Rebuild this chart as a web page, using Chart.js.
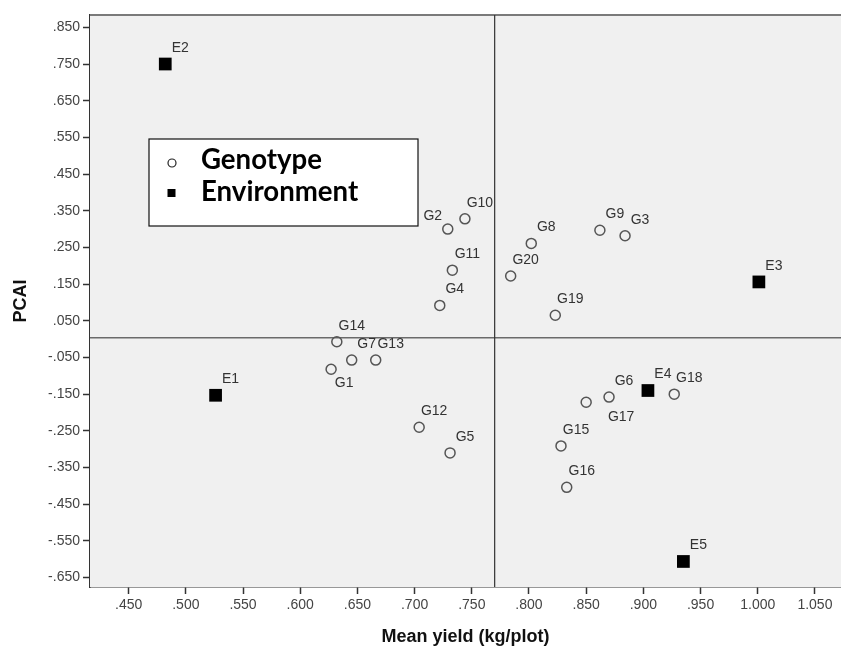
<!DOCTYPE html>
<html>
<head>
<meta charset="utf-8">
<script src="https://cdn.jsdelivr.net/npm/chart.js@4.4.1/dist/chart.umd.min.js"></script>
<style>
  html, body { margin: 0; padding: 0; background: #fff; overflow: hidden; }
  #wrap { width: 841px; height: 648px; overflow: hidden; }
</style>
</head>
<body>
<!-- canvas is a bit wider than the window: the plot frame runs off the right edge like the original -->
<div id="wrap"><canvas id="chart" width="850" height="648"></canvas></div>
<script>
// genotypes
const genoNames = ["G1", "G2", "G3", "G4", "G5", "G6", "G7", "G8", "G9", "G10",
  "G11", "G12", "G13", "G14", "G15", "G16", "G17", "G18", "G19", "G20"];
const genoYield = [0.627, 0.729, 0.884, 0.722, 0.731, 0.870, 0.645, 0.802, 0.862, 0.744,
  0.733, 0.704, 0.666, 0.632, 0.828, 0.833, 0.850, 0.927, 0.823, 0.784];
const genoPca = [-0.082, 0.300, 0.282, 0.092, -0.310, -0.158, -0.057, 0.261, 0.297, 0.328,
  0.188, -0.240, -0.057, -0.007, -0.291, -0.404, -0.172, -0.150, 0.065, 0.172];

// environments
const envNames = ["E1", "E2", "E3", "E4", "E5"];
const envYield = [0.526, 0.482, 1.001, 0.904, 0.935];
const envPca = [-0.153, 0.750, 0.156, -0.140, -0.606];

// reference lines (grand mean / zero)
const meanYield = 0.770;
const meanPca = 0.004;

// axis ticks
const xTicks = [0.45, 0.5, 0.55, 0.6, 0.65, 0.7, 0.75, 0.8, 0.85, 0.9, 0.95, 1.0, 1.05];
const yTicks = [0.85, 0.75, 0.65, 0.55, 0.45, 0.35, 0.25, 0.15, 0.05, -0.05, -0.15,
  -0.25, -0.35, -0.45, -0.55, -0.65];

// where a label sits next to its point (px), default up-right
const labelShift = { G2: [-15, -13], G1: [13, 14], G17: [35, 15] };

function fmt(v) {
  return v.toFixed(3).replace(/^(-?)0\./, "$1.");
}

const genoPoints = genoYield.map((x, i) => ({ x, y: genoPca[i], name: genoNames[i] }));
const envPoints = envYield.map((x, i) => ({ x, y: envPca[i], name: envNames[i] }));

const plotDecor = {
  id: "plotDecor",
  beforeDatasetsDraw(chart) {
    const { ctx, chartArea: a, scales } = chart;
    ctx.save();
    ctx.fillStyle = "#f0f0f0";
    ctx.fillRect(a.left, a.top, a.right - a.left, a.bottom - a.top);
    // top border
    ctx.strokeStyle = "#7a7a7a";
    ctx.lineWidth = 2;
    ctx.beginPath();
    ctx.moveTo(a.left, a.top);
    ctx.lineTo(a.right, a.top);
    ctx.stroke();
    // reference lines
    const xm = scales.x.getPixelForValue(meanYield);
    const ym = scales.y.getPixelForValue(meanPca);
    ctx.strokeStyle = "#6a6a6a";
    ctx.lineWidth = 1.5;
    ctx.beginPath();
    ctx.moveTo(a.left, ym);
    ctx.lineTo(a.right, ym);
    ctx.stroke();
    ctx.strokeStyle = "#333";
    ctx.lineWidth = 1.2;
    ctx.beginPath();
    ctx.moveTo(xm, a.top);
    ctx.lineTo(xm, a.bottom);
    ctx.stroke();
    ctx.restore();
  },
  afterDatasetsDraw(chart) {
    const { ctx, scales } = chart;
    ctx.save();
    ctx.font = "14px 'Liberation Sans', Arial, sans-serif";
    ctx.fillStyle = "#333";
    ctx.textAlign = "center";
    ctx.textBaseline = "middle";
    [genoPoints, envPoints].forEach(pts => {
      pts.forEach(p => {
        const s = labelShift[p.name] || [15, -16];
        const px = scales.x.getPixelForValue(p.x);
        const py = scales.y.getPixelForValue(p.y);
        ctx.fillText(p.name, px + s[0], py + s[1]);
      });
    });

    // legend box
    ctx.fillStyle = "#fff";
    ctx.fillRect(149, 139, 269, 87);
    ctx.strokeStyle = "#111";
    ctx.lineWidth = 1.2;
    ctx.strokeRect(149, 139, 269, 87);
    ctx.strokeStyle = "#222";
    ctx.lineWidth = 1.2;
    ctx.beginPath();
    ctx.arc(172, 163, 4, 0, Math.PI * 2);
    ctx.stroke();
    ctx.fillStyle = "#000";
    ctx.fillRect(167.5, 189, 8, 8);
    let size = 22;
    ctx.font = "bold " + size + "px Lato, 'Open Sans', sans-serif";
    size = size * 157 / ctx.measureText("Environment").width;
    ctx.font = "bold " + size.toFixed(1) + "px Lato, 'Open Sans', sans-serif";
    ctx.textAlign = "left";
    ctx.textBaseline = "alphabetic";
    ctx.fillText("Genotype", 201, 169);
    ctx.fillText("Environment", 201, 201);
    ctx.restore();
  }
};

const tickFont = { family: "'Liberation Sans', Arial, sans-serif", size: 14 };
const titleFont = { family: "'Liberation Sans', Arial, sans-serif", size: 18, weight: "bold" };
const xMin = 0.4162, xMax = 1.0728;

new Chart(document.getElementById("chart"), {
  type: "scatter",
  data: {
    datasets: [
      {
        label: "Genotype",
        data: genoPoints,
        pointStyle: "circle",
        pointRadius: 5,
        pointHoverRadius: 5,
        borderColor: "#555",
        borderWidth: 1.5,
        backgroundColor: "rgba(0,0,0,0)"
      },
      {
        label: "Environment",
        data: envPoints,
        pointStyle: "rect",
        pointRadius: 9,
        pointHoverRadius: 9,
        borderColor: "#000",
        borderWidth: 0,
        backgroundColor: "#000"
      }
    ]
  },
  options: {
    responsive: false,
    animation: false,
    layout: { padding: { top: 15, right: 0, left: 0, bottom: 0 } },
    plugins: { legend: { display: false }, tooltip: { enabled: false } },
    scales: {
      x: {
        type: "linear",
        min: xMin,
        max: xMax,
        afterBuildTicks: s => { s.ticks = xTicks.map(v => ({ value: v })); },
        afterFit: s => { s.height = 61; },
        ticks: { font: tickFont, color: "#444", padding: 3, maxRotation: 0, autoSkip: false,
          callback: v => fmt(v) },
        grid: { drawOnChartArea: false, tickLength: 7, tickWidth: 1.5, tickColor: "#333" },
        border: { color: "#333", width: 1.5 },
        title: { display: true, text: "Mean yield (kg/plot)", font: titleFont, color: "#111",
          padding: { top: 0, bottom: 0 } }
      },
      y: {
        type: "linear",
        min: -0.6756,
        max: 0.8836,
        afterBuildTicks: s => { s.ticks = yTicks.map(v => ({ value: v })); },
        afterFit: s => { s.width = 90; },
        ticks: { font: tickFont, color: "#444", padding: 3, autoSkip: false,
          callback: v => fmt(v) },
        grid: { drawOnChartArea: false, tickLength: 7, tickColor: "#333", tickWidth: 1.5 },
        border: { color: "#333", width: 1.5 },
        title: { display: true, text: "PCAI", font: titleFont, color: "#111",
          padding: { top: 10, bottom: 0 } }
      }
    }
  },
  plugins: [plotDecor]
});
</script>
</body>
</html>
